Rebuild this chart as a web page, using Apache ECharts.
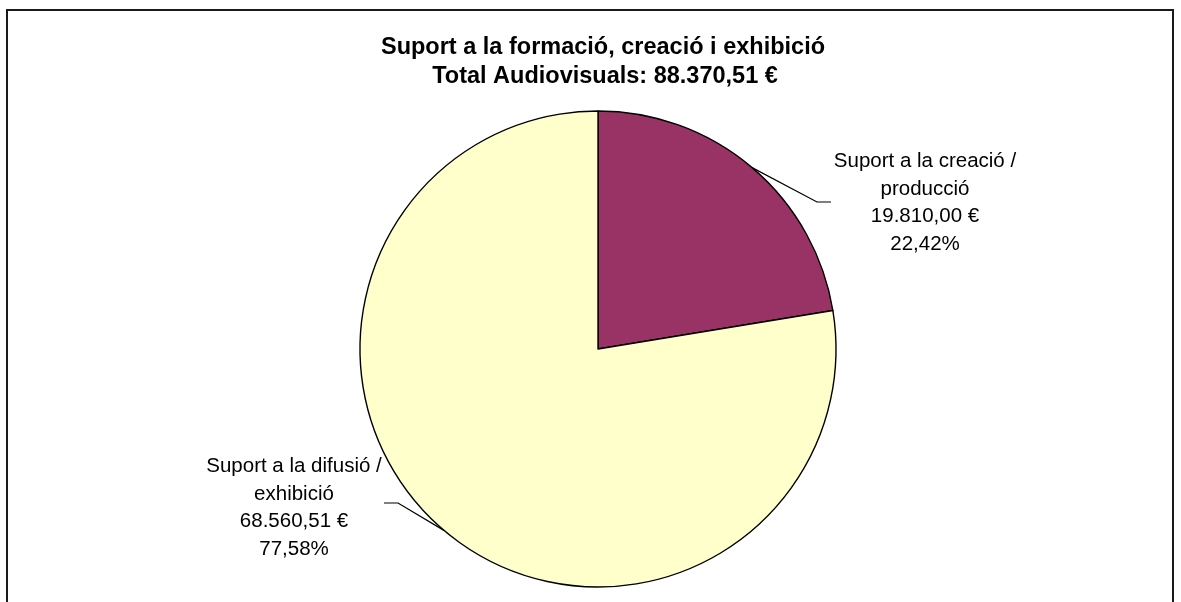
<!DOCTYPE html>
<html>
<head>
<meta charset="utf-8">
<script src="https://cdn.jsdelivr.net/npm/echarts@6/dist/echarts.min.js"></script>
<style>
html,body{margin:0;padding:0;background:#fff;}
#chart{width:1181px;height:602px;}
</style>
</head>
<body>
<div id="chart"></div>
<script>
// ---- data ----
const titleLine1 = 'Suport a la formació, creació i exhibició';
const titleLabel = 'Total Audiovisuals';
const categories = ['Suport a la creació / producció', 'Suport a la difusió / exhibició'];
const values = [19810.00, 68560.51];
const colors = ['#993366', '#FFFFCC'];

function fmtNum(v) {
  const parts = v.toFixed(2).split('.');
  const intPart = parts[0].replace(/\B(?=(\d{3})+(?!\d))/g, '.');
  return intPart + ',' + parts[1];
}
const total = values.reduce((a, b) => a + b, 0);

// label placement (center of label block) and leader line elbows
const labelPos = [
  { x: 925, y: 203, elbow: [817, 202], end: [831, 202] },
  { x: 294, y: 508, elbow: [398, 503], end: [384, 503] }
];

const chart = echarts.init(document.getElementById('chart'), null, { renderer: 'canvas' });
const FONT = '"Liberation Sans", Arial, Helvetica, sans-serif';

chart.setOption({
  backgroundColor: '#ffffff',
  animation: false,
  title: [
    {
      text: titleLine1,
      left: 598, top: 31, textAlign: 'center',
      textStyle: { fontFamily: FONT, fontWeight: 'bold', fontSize: 23.5, color: '#000' }
    },
    {
      text: titleLabel + ': ' + fmtNum(total) + ' €',
      left: 600, top: 60, textAlign: 'center',
      textStyle: { fontFamily: FONT, fontWeight: 'bold', fontSize: 23.5, color: '#000' }
    }
  ],
  graphic: [{
    type: 'rect',
    shape: { x: 7, y: 10, width: 1166, height: 700 },
    style: { fill: 'none', stroke: '#1a1a1a', lineWidth: 2 },
    silent: true
  }],
  series: [{
    type: 'pie',
    center: [598, 349],
    radius: 238,
    startAngle: 90,
    clockwise: true,
    avoidLabelOverlap: false,
    data: categories.map((c, i) => ({ name: c, value: values[i], itemStyle: { color: colors[i] } })),
    itemStyle: { borderColor: '#000', borderWidth: 1.4 },
    label: {
      show: true,
      position: 'outside',
      fontFamily: FONT,
      fontSize: 20.5,
      lineHeight: 27.5,
      color: '#000',
      formatter: function (p) {
        const pct = (p.value / total * 100).toFixed(2).replace('.', ',');
        return p.name.replace(' / ', ' /\n') + '\n' + fmtNum(p.value) + ' €\n' + pct + '%';
      }
    },
    labelLine: { show: true, lineStyle: { color: '#000', width: 1.2 } },
    labelLayout: function (p) {
      const pos = labelPos[p.dataIndex];
      const a = p.labelLinePoints ? p.labelLinePoints[0] : pos.elbow;
      return {
        x: pos.x, y: pos.y, align: 'center', verticalAlign: 'middle',
        labelLinePoints: [a, pos.elbow, pos.end]
      };
    },
    emphasis: { disabled: true }
  }]
});
</script>
</body>
</html>
